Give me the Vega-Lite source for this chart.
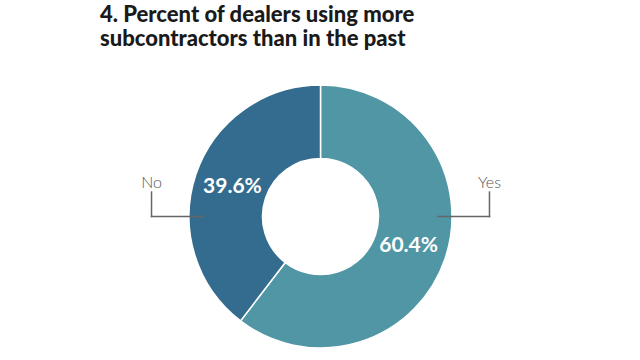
{
  "$schema": "https://vega.github.io/schema/vega-lite/v6.json",
  "width": 640,
  "height": 309,
  "autosize": {"type": "none"},
  "padding": {"left": 0, "top": 51, "right": 0, "bottom": 0},
  "background": "white",
  "title": {
    "text": ["4. Percent of dealers using more", "subcontractors than in the past"],
    "anchor": "start",
    "frame": "group",
    "dx": 100,
    "dy": 22,
    "offset": 0,
    "baseline": "bottom",
    "font": "Lato",
    "fontSize": 22,
    "fontWeight": 900,
    "lineHeight": 24,
    "color": "#1a1a1a"
  },
  "config": {"view": {"stroke": null}},
  "data": {"values": [{"answer": "Yes", "share": 0.604}, {"answer": "No", "share": 0.396}]},
  "layer": [
    {
      "mark": {"type": "arc", "outerRadius": 131.5, "innerRadius": 58, "stroke": "white", "strokeWidth": 1.5},
      "encoding": {
        "theta": {"field": "share", "type": "quantitative", "stack": true},
        "order": {"field": "answer", "type": "nominal", "sort": "descending"},
        "color": {"field": "answer", "type": "nominal", "scale": {"domain": ["Yes", "No"], "range": ["#5096a5", "#336c8e"]}, "legend": null},
        "x": {"datum": 0, "type": "quantitative", "scale": {"domain": [-2.4373, 2.4297], "nice": false, "zero": false}, "axis": null},
        "y": {"datum": 0, "type": "quantitative", "scale": {"domain": [-1.0913, 1.2586], "nice": false, "zero": false}, "axis": null}
      }
    },
    {
      "mark": {"type": "text", "radius": 93, "font": "Lato", "fontSize": 21, "fontWeight": "bold", "color": "white", "baseline": "middle", "align": "center"},
      "encoding": {
        "theta": {"field": "share", "type": "quantitative", "stack": true},
        "order": {"field": "answer", "type": "nominal", "sort": "descending"},
        "detail": {"field": "answer", "type": "nominal"},
        "text": {"field": "share", "type": "quantitative", "format": ".1%"},
        "x": {"datum": 0, "type": "quantitative"},
        "y": {"datum": 0, "type": "quantitative"}
      }
    },
    {
      "data": {"values": [{"answer": "No", "lx": -1.285, "ly": 0.186, "ex": -0.9}, {"answer": "Yes", "lx": 1.285, "ly": 0.186, "ex": 0.894}]},
      "layer": [
        {
          "mark": {"type": "rule", "color": "#666666", "strokeWidth": 1.5, "strokeCap": "square"},
          "encoding": {
            "x": {"field": "lx", "type": "quantitative"},
            "y": {"field": "ly", "type": "quantitative"},
            "y2": {"datum": 0}
          }
        },
        {
          "mark": {"type": "rule", "color": "#666666", "strokeWidth": 1.5, "strokeCap": "square"},
          "encoding": {
            "x": {"field": "lx", "type": "quantitative"},
            "x2": {"field": "ex"},
            "y": {"datum": 0, "type": "quantitative"}
          }
        },
        {
          "mark": {"type": "text", "font": "Lato", "fontSize": 16, "fontWeight": 300, "color": "#555555", "baseline": "alphabetic", "align": "center", "dy": -4},
          "encoding": {
            "x": {"field": "lx", "type": "quantitative"},
            "y": {"field": "ly", "type": "quantitative"},
            "text": {"field": "answer", "type": "nominal"}
          }
        }
      ]
    }
  ]
}
